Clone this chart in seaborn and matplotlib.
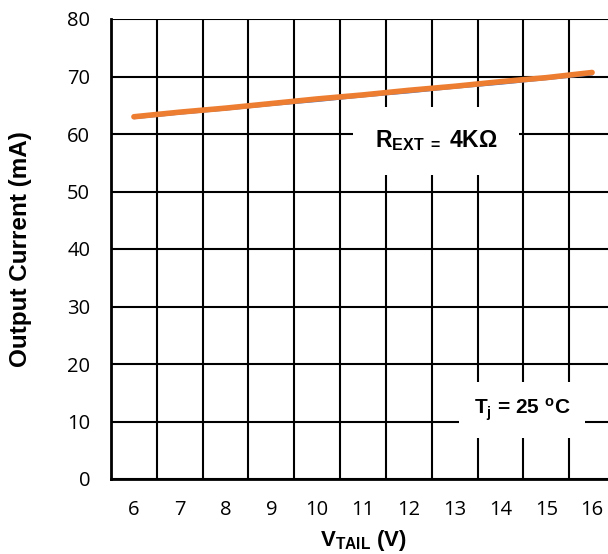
import matplotlib
matplotlib.use("Agg")
import matplotlib.pyplot as plt
import seaborn as sns
import pandas as pd
import numpy as np

# Data
vtail = [6, 7, 8, 9, 10, 11, 12, 13, 14, 15, 16]
current_blue = [62.8, 63.6, 64.3, 65.1, 65.8, 66.6, 67.3, 68.1, 68.8, 69.6, 70.4]
current_orange = [63.0, 63.8, 64.5, 65.3, 66.1, 66.8, 67.6, 68.3, 69.1, 69.8, 70.7]
y_ticks = [0, 10, 20, 30, 40, 50, 60, 70, 80]

sns.set_style("white")
plt.rcParams['font.family'] = ['Liberation Sans', 'DejaVu Sans']
plt.rcParams['mathtext.fontset'] = 'custom'
plt.rcParams['mathtext.rm'] = 'Liberation Sans'
plt.rcParams['mathtext.bf'] = 'Liberation Sans:bold'
plt.rcParams['mathtext.it'] = 'Liberation Sans:italic'
plt.rcParams['text.color'] = 'black'
plt.rcParams['axes.labelcolor'] = 'black'
plt.rcParams['xtick.color'] = 'black'
plt.rcParams['ytick.color'] = 'black'

fig = plt.figure(figsize=(6.08, 5.54), dpi=100)
ax = fig.add_axes([111/608, 75/554, 504/608, 460/554])

df = pd.DataFrame({"V": vtail * 2,
                   "I": current_blue + current_orange,
                   "s": ["b"] * len(vtail) + ["o"] * len(vtail)})
sns.lineplot(data=df[df.s == "b"], x="V", y="I", color="#4472C4", linewidth=2.0, ax=ax,
             solid_capstyle="round")
sns.lineplot(data=df[df.s == "o"], x="V", y="I", color="#ED7D31", linewidth=4.0, ax=ax,
             solid_capstyle="round")

ax.set_xlim(5.5, 16.5)
ax.set_ylim(0, 80)
ax.set_xticks(vtail)
ax.set_xticks([v - 0.5 for v in vtail] + [16.5], minor=True)
ax.set_yticks(y_ticks)
ax.tick_params(axis='x', which='both', length=0, pad=15, labelsize=14.5)
ax.tick_params(axis='y', which='both', length=0, pad=15, labelsize=14.5)
for lbl in ax.get_xticklabels() + ax.get_yticklabels():
    lbl.set_family(['Open Sans', 'DejaVu Sans'])
ax.grid(False)
ax.grid(True, which='minor', axis='x', color='black', linewidth=1.5)
ax.grid(True, which='major', axis='y', color='black', linewidth=1.5)
for side in ['top', 'right']:
    ax.spines[side].set_visible(False)
for side in ['left', 'bottom']:
    ax.spines[side].set_color('black')
    ax.spines[side].set_linewidth(2)
ax.set_axisbelow(True)

ax.set_xlabel(r'$\mathbf{V_{TAIL}}$ (V)', fontsize=16, fontweight='bold', labelpad=6)
ax.set_ylabel('Output Current (mA)', fontsize=17.5, fontweight='bold', labelpad=25)

ax.text(0.645, 0.735, r'$\mathbf{R_{EXT\ =}}$ 4KΩ', transform=ax.transAxes, fontsize=16.5,
        fontweight='bold', ha='center', va='center',
        bbox=dict(boxstyle='square,pad=0.95', facecolor='white', edgecolor='none'))
ax.text(0.816, 0.15, r'$\mathbf{T_{j}}$ = 25 $\mathbf{^{o}}$C', transform=ax.transAxes, fontsize=15,
        fontweight='bold', ha='center', va='center',
        bbox=dict(boxstyle='square,pad=0.7', facecolor='white', edgecolor='none'))

fig.savefig("out.png", dpi=100)
